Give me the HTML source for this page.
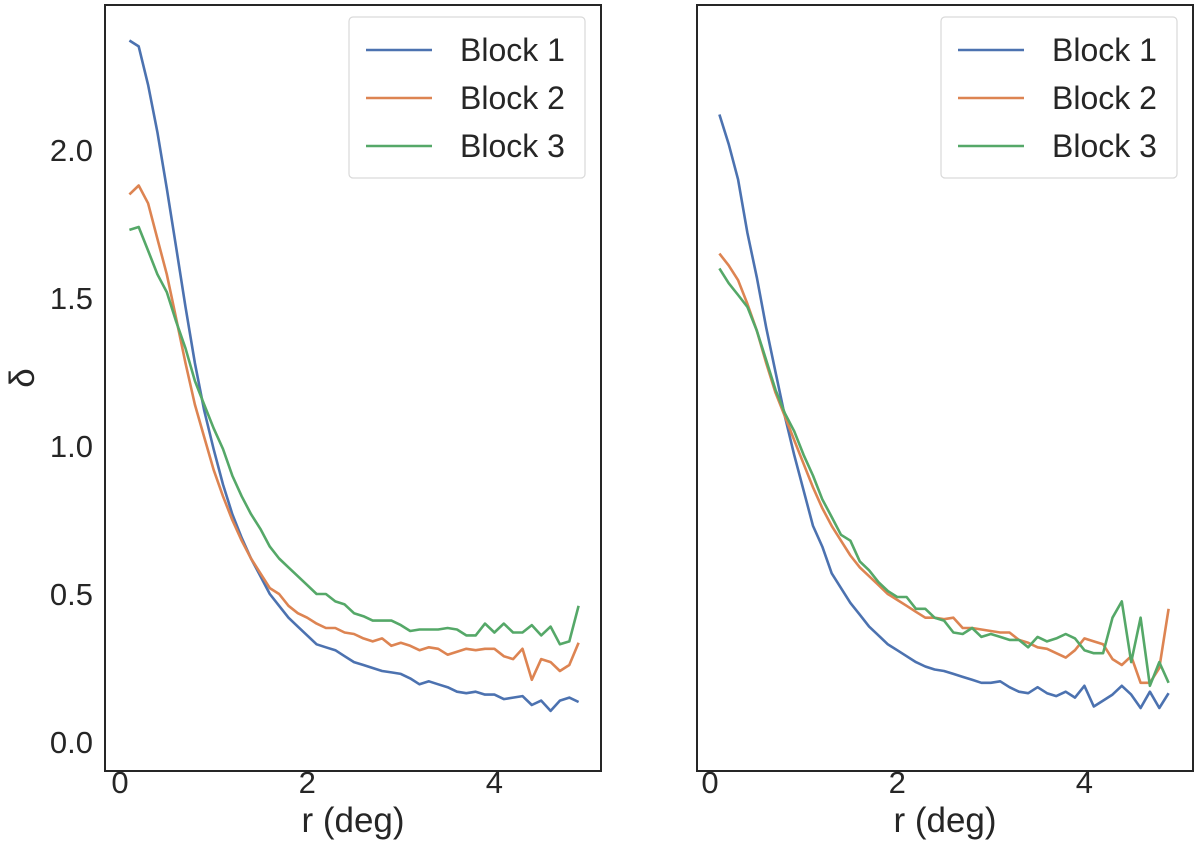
<!DOCTYPE html>
<html><head><meta charset="utf-8"><style>
body{margin:0;background:#fff;}
svg text{font-family:"Liberation Sans",sans-serif;fill:#262626;}
</style></head><body>
<svg id="chart" width="1200" height="841" xmlns="http://www.w3.org/2000/svg"></svg>
<script>
const rValues=[0.1,0.2,0.3,0.4,0.5,0.6,0.7,0.8,0.9,1.0,1.1,1.2,1.3,1.4,1.5,1.6,1.7,1.8,1.9,2.0,2.1,2.2,2.3,2.4,2.5,2.6,2.7,2.8,2.9,3.0,3.1,3.2,3.3,3.4,3.5,3.6,3.7,3.8,3.9,4.0,4.1,4.2,4.3,4.4,4.5,4.6,4.7,4.8,4.9];
const leftBlock1=[2.37,2.35,2.22,2.06,1.87,1.67,1.47,1.28,1.12,0.99,0.87,0.77,0.69,0.62,0.56,0.50,0.46,0.42,0.39,0.36,0.33,0.32,0.31,0.29,0.27,0.26,0.25,0.24,0.235,0.23,0.215,0.195,0.205,0.195,0.185,0.17,0.165,0.17,0.16,0.16,0.145,0.15,0.155,0.125,0.14,0.105,0.14,0.15,0.135];
const leftBlock2=[1.85,1.88,1.82,1.70,1.58,1.43,1.28,1.14,1.03,0.92,0.83,0.75,0.68,0.62,0.57,0.52,0.50,0.46,0.435,0.42,0.40,0.385,0.385,0.37,0.365,0.35,0.34,0.35,0.325,0.335,0.325,0.31,0.32,0.315,0.295,0.305,0.315,0.31,0.315,0.315,0.29,0.28,0.315,0.21,0.28,0.27,0.24,0.26,0.335];
const leftBlock3=[1.73,1.74,1.66,1.58,1.52,1.42,1.33,1.22,1.14,1.06,0.99,0.90,0.83,0.77,0.72,0.66,0.62,0.59,0.56,0.53,0.50,0.50,0.475,0.465,0.435,0.425,0.41,0.41,0.41,0.395,0.375,0.38,0.38,0.38,0.385,0.38,0.36,0.36,0.40,0.37,0.40,0.37,0.37,0.395,0.36,0.39,0.33,0.34,0.46];
const rightBlock1=[2.12,2.02,1.90,1.72,1.57,1.40,1.25,1.10,0.97,0.85,0.73,0.66,0.57,0.52,0.47,0.43,0.39,0.36,0.33,0.31,0.29,0.27,0.255,0.245,0.24,0.23,0.22,0.21,0.20,0.20,0.205,0.185,0.17,0.165,0.185,0.165,0.155,0.17,0.15,0.19,0.12,0.14,0.16,0.19,0.16,0.115,0.17,0.115,0.165];
const rightBlock2=[1.65,1.61,1.56,1.48,1.39,1.28,1.18,1.10,1.02,0.94,0.86,0.79,0.73,0.68,0.63,0.59,0.56,0.53,0.50,0.48,0.46,0.44,0.42,0.42,0.415,0.42,0.385,0.385,0.38,0.375,0.37,0.37,0.345,0.335,0.32,0.315,0.30,0.285,0.31,0.35,0.34,0.33,0.28,0.26,0.29,0.20,0.20,0.25,0.45];
const rightBlock3=[1.60,1.55,1.51,1.47,1.39,1.29,1.19,1.11,1.05,0.97,0.90,0.82,0.76,0.70,0.68,0.61,0.58,0.54,0.51,0.49,0.49,0.45,0.45,0.42,0.41,0.37,0.365,0.385,0.355,0.365,0.355,0.345,0.345,0.32,0.355,0.34,0.35,0.365,0.35,0.31,0.30,0.30,0.42,0.475,0.27,0.42,0.19,0.27,0.20];
const xTicks=[0,2,4];
const yTicks=[0.0,0.5,1.0,1.5,2.0];
const seriesNames=["Block 1","Block 2","Block 3"];
const colors=["#4c72b0","#dd8452","#55a868"];

const svg=document.getElementById('chart');
const NS="http://www.w3.org/2000/svg";
function mk(tag,attrs,parent){const e=document.createElementNS(NS,tag);for(const k in attrs)e.setAttribute(k,attrs[k]);(parent||svg).appendChild(e);return e;}
const yScale=v=>742-v*296;
const panels=[{x0:105,x1:601,zero:120,data:[leftBlock1,leftBlock2,leftBlock3],name:'left'},{x0:697,x1:1193,zero:710,data:[rightBlock1,rightBlock2,rightBlock3],name:'right'}];
panels.forEach((p,pi)=>{
  const xScale=v=>p.zero+v*93.6;
  const g=mk('g',{});
  
  
  p.data.forEach((s,si)=>{
    const d=s.map((v,i)=>(i?'L':'M')+xScale(rValues[i]).toFixed(1)+','+yScale(v).toFixed(1)).join(' ');
    const path=mk('path',{d:d,fill:'none',stroke:colors[si],'stroke-width':2.6,'stroke-linejoin':'round'},g);
    
    
  });
  const fr=mk('rect',{x:p.x0,y:5,width:p.x1-p.x0,height:766,fill:'none',stroke:'#262626','stroke-width':2},g);
  
  
  xTicks.forEach(t=>{
    const tx=mk('text',{x:xScale(t),y:793,'font-size':31,'text-anchor':'middle'},g);
    tx.textContent=t;
    
    
  });
  const xl=mk('text',{x:(p.x0+p.x1)/2,y:832,'font-size':35,'text-anchor':'middle'},g);
  xl.textContent='r (deg)';
  
  
  if(pi===0){
    yTicks.forEach(t=>{
      const ty=mk('text',{x:93,y:yScale(t)+11,'font-size':31,'text-anchor':'end'},g);
      ty.textContent=t.toFixed(1);
      
      
    });
    const yl=mk('text',{x:0,y:0,'font-size':35,'text-anchor':'middle',transform:'translate(34,378) rotate(-90)'},g);
    yl.textContent='δ';
    
    
  }
  const lx=p.x1-252;
  const lg=mk('g',{},g);
  
  
  mk('rect',{x:lx,y:17,width:236,height:161,rx:4,fill:'#fff',stroke:'#d9d9d9','stroke-width':1.2},lg);
  seriesNames.forEach((n,si)=>{
    const yy=50+si*48;
    const ln=mk('line',{x1:lx+17,x2:lx+83,y1:yy,y2:yy,stroke:colors[si],'stroke-width':2.6},lg);
    
    
    const lt=mk('text',{x:lx+111,y:yy+11,'font-size':32},lg);
    lt.textContent=n;
    
    
  });
});
</script>
</body></html>
